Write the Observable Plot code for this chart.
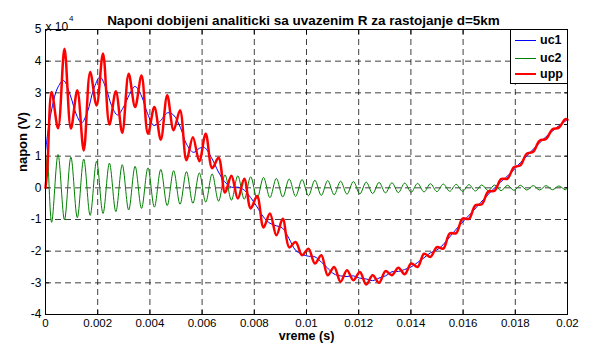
<!DOCTYPE html>
<html><head><meta charset="utf-8">
<script src="https://cdn.jsdelivr.net/npm/d3@7"></script>
<script src="https://cdn.jsdelivr.net/npm/@observablehq/plot@0.6"></script>
<style>
body{margin:0;background:#fff}
#wrap{position:relative;width:589px;height:344px}
#chart svg{font-family:"Liberation Sans",Arial,Helvetica,sans-serif;display:block}
#legend{position:absolute;box-sizing:border-box;background:#fff;border:1px solid #000;
  font-family:"Liberation Sans",Arial,sans-serif;font-weight:bold;font-size:12.5px;color:#000}
#legend .row{position:absolute;left:0;height:14px;display:flex;align-items:center}
#legend .sw{display:inline-block;width:21px;margin-left:4px;margin-right:4px}
</style>
</head><body><div id="wrap"><div id="chart"></div><div id="legend"></div></div>
<script>
const title = "Naponi dobijeni analiticki sa uvazenim R za rastojanje d=5km";
const xLabel = "vreme (s)";
const yLabel = "napon (V)";
const yScaleText = "x 10";
const yScaleExp = "4";
const xTicks = [0,0.002,0.004,0.006,0.008,0.01,0.012,0.014,0.016,0.018,0.02];
const xTickLabels = ["0","0.002","0.004","0.006","0.008","0.01","0.012","0.014","0.016","0.018","0.02"];
const yTicks = [-4,-3,-2,-1,0,1,2,3,4,5];
const yTickLabels = ["-4","-3","-2","-1","0","1","2","3","4","5"];
const seriesNames = ["uc1","uc2","upp"];
const seriesColors = ["#0000ff","#008000","#ff0000"];

// uc1 (x 10^4 V)
const tUc1 = [0,0.000115,0.000268,0.000460,0.000690,0.000958,0.001188,0.001379,0.001609,0.001839,
0.002088,0.002337,0.002529,0.002759,0.002989,0.003218,0.003429,0.003678,0.003908,0.004157,
0.004406,0.004674,0.004904,0.005172,0.005402,0.005670,0.005900,0.006092,0.006360,0.006628,
0.006858,0.007126,0.007375,0.007625,0.007854,0.008103,0.008352,0.008601,0.008851,0.009080,
0.009329,0.009579,0.009828,0.010077,0.010326,0.010575,0.010805,0.011054,0.011303,0.011552,
0.011801,0.012031,0.012299,0.012529,0.012778,0.013027,0.013276,0.013525,0.013755,0.014004,
0.014253,0.014502,0.014751,0.014981,0.015230,0.015517,0.015900,0.016284,0.016667,0.017050,
0.017433,0.017816,0.018199,0.018582,0.018966,0.019349,0.019732,0.020000];
const uc1 = [1.15,1.9,2.6,3.15,3.39,2.9,2.3,2.05,2.4,3.1,
3.5,3.1,2.6,2.3,2.55,2.95,3.2,2.9,2.35,1.97,
2.12,2.37,2.3,1.9,1.38,1.12,1.25,1.27,0.95,0.5,
0.2,0.02,0.02,-0.08,-0.3,-0.6,-0.92,-1.12,-1.2,-1.27,
-1.6,-1.97,-2.1,-2.16,-2.18,-2.35,-2.53,-2.72,-2.78,-2.8,
-2.78,-2.85,-2.88,-2.93,-2.85,-2.78,-2.65,-2.64,-2.58,-2.5,
-2.36,-2.21,-2.05,-1.97,-1.8,-1.52,-1.15,-0.82,-0.47,-0.13,
0.18,0.46,0.8,1.13,1.45,1.74,2.0,2.15];

// uc2 and upp, read at their turning points (x 10^4 V)
const tOsc = [0,0.00007,
0.000235,0.000481,0.000727,0.000973,0.001219,0.001465,0.001711,0.001957,0.002203,0.002449,
0.002695,0.002941,0.003187,0.003433,0.003679,0.003925,0.004171,0.004417,0.004663,0.004909,
0.005155,0.005401,0.005647,0.005893,0.006139,0.006385,0.006631,0.006877,0.007123,0.007369,
0.007615,0.007861,0.008107,0.008353,0.008599,0.008845,0.009091,0.009337,0.009583,0.009829,
0.010075,0.010321,0.010567,0.010813,0.011059,0.011305,0.011551,0.011797,0.012043,0.012289,
0.012535,0.012781,0.013027,0.013273,0.013519,0.013765,0.014011,0.014257,0.014503,0.014749,
0.014995,0.015241,0.015487,0.015733,0.015979,0.016225,0.016471,0.016717,0.016963,0.017209,
0.017455,0.017701,0.017947,0.018193,0.018439,0.018685,0.018931,0.019177,0.019423,0.019669,
0.019915,0.02];
const uc2 = [0,1.0,
-1.09,1.05,-1.01,0.97,-0.94,0.91,-0.87,0.84,-0.81,0.78,
-0.75,0.73,-0.70,0.68,-0.65,0.63,-0.61,0.58,-0.56,0.54,
-0.52,0.51,-0.49,0.47,-0.45,0.44,-0.42,0.41,-0.39,0.38,
-0.36,0.35,-0.34,0.33,-0.31,0.30,-0.29,0.28,-0.27,0.26,
-0.25,0.24,-0.24,0.23,-0.22,0.21,-0.20,0.20,-0.19,0.18,
-0.18,0.17,-0.16,0.16,-0.15,0.15,-0.14,0.14,-0.13,0.13,
-0.12,0.12,-0.11,0.11,-0.11,0.10,-0.10,0.09,-0.09,0.09,
-0.09,0.08,-0.08,0.08,-0.07,0.07,-0.07,0.07,-0.06,0.06,
-0.06,0];
const upp = [0,0.6,
3.03,1.88,4.39,1.87,3.08,1.18,3.66,2.6,4.24,2.0,
3.05,1.74,3.6,2.55,3.55,1.71,2.55,1.52,2.92,1.82,
2.45,0.87,1.6,0.84,1.71,0.62,0.95,-0.15,0.38,-0.34,
0.29,-0.65,-0.26,-1.25,-0.81,-1.5,-0.98,-1.88,-1.71,-2.13,
-1.92,-2.39,-2.13,-2.76,-2.5,-2.97,-2.6,-2.92,-2.66,-3.05,
-2.76,-3.0,-2.63,-2.76,-2.52,-2.73,-2.39,-2.5,-2.08,-2.18,
-1.87,-1.92,-1.44,-1.43,-0.97,-0.98,-0.55,-0.52,-0.12,-0.09,
0.28,0.29,0.65,0.71,1.08,1.14,1.49,1.54,1.85,1.9,
2.17,2.15];

const d1 = tUc1.map((t,i)=>({t, v: uc1[i]}));
const d2 = tOsc.map((t,i)=>({t, v: uc2[i]}));
const d3s = tOsc.map((t,i)=>({t, v: upp[i]}));

const W = 589, H = 344, mL = 45, mR = 22, mT = 29, mB = 30;
const xFmt = d => xTickLabels[xTicks.indexOf(d)];
const yFmt = d => yTickLabels[yTicks.indexOf(d)];
const gridStyle = {stroke: "#000", strokeOpacity: 0.75, strokeWidth: 1, strokeDasharray: "6,4"};

const svg = Plot.plot({
  width: W, height: H,
  marginLeft: mL, marginRight: mR, marginTop: mT, marginBottom: mB,
  style: {fontFamily: "'Liberation Sans', Arial, sans-serif", fontSize: "12px", background: "#fff", color: "#000", overflow: "visible"},
  x: {domain: [0, 0.02]},
  y: {domain: [-4, 5]},
  marks: [
    Plot.gridX(xTicks, gridStyle),
    Plot.gridY(yTicks, gridStyle),
    Plot.axisX(xTicks, {anchor: "bottom", tickSize: 0, tickPadding: 4.5, tickFormat: xFmt, label: null, fontSize: 11.5}),
    Plot.axisY(yTicks, {anchor: "left", tickSize: 0, tickPadding: 4, tickFormat: yFmt, label: null, fontSize: 12}),
    Plot.axisX(xTicks, {anchor: "bottom", tickSize: -4, tickFormat: () => "", label: null}),
    Plot.axisX(xTicks, {anchor: "top", tickSize: -4, tickFormat: () => "", label: null}),
    Plot.axisY(yTicks, {anchor: "left", tickSize: -4, tickFormat: () => "", label: null}),
    Plot.axisY(yTicks, {anchor: "right", tickSize: -4, tickFormat: () => "", label: null}),
    Plot.line(d1, {x: "t", y: "v", stroke: seriesColors[0], strokeWidth: 1, curve: "catmull-rom"}),
    Plot.line(d2, {x: "t", y: "v", stroke: seriesColors[1], strokeWidth: 1, curve: "catmull-rom"}),
    Plot.line(d3s, {x: "t", y: "v", stroke: seriesColors[2], strokeWidth: 2.5, curve: "catmull-rom"}),
    Plot.frame({stroke: "#000", strokeWidth: 1}),
    Plot.text([title], {frameAnchor: "top", dy: -14, dx: -3, fontWeight: "bold", fontSize: 13.5, letterSpacing: "0.35px"}),
    Plot.text([yScaleText], {frameAnchor: "top-left", textAnchor: "start", dy: -7, fontSize: 12}),
    Plot.text([yScaleExp], {frameAnchor: "top-left", textAnchor: "start", dx: 23.5, dy: -14, fontSize: 8}),
    Plot.text([yLabel], {frameAnchor: "left", dx: -23, rotate: -90, fontWeight: "bold", fontSize: 13}),
    Plot.text([xLabel], {frameAnchor: "bottom", dy: 25.5, fontWeight: "bold", fontSize: 12.5})
  ]
});
document.getElementById("chart").appendChild(svg);

// legend box (HTML overlay) in the top-right corner of the plot frame
const boxW = 58, boxH = 55;
const legend = document.getElementById("legend");
legend.style.left = (W - mR - boxW + 1) + "px";
legend.style.top = mT + "px";
legend.style.width = boxW + "px";
legend.style.height = boxH + "px";
const rowTop = [3, 21, 37];
const widths = [1, 1, 2.5];
seriesNames.forEach((name, i) => {
  const row = document.createElement("div");
  row.className = "row";
  row.style.top = rowTop[i] + "px";
  const sw = document.createElement("span");
  sw.className = "sw";
  sw.style.borderTop = `${widths[i]}px solid ${seriesColors[i]}`;
  row.appendChild(sw);
  const lab = document.createElement("span");
  lab.textContent = name;
  row.appendChild(lab);
  legend.appendChild(row);
});
</script>
</body></html>
